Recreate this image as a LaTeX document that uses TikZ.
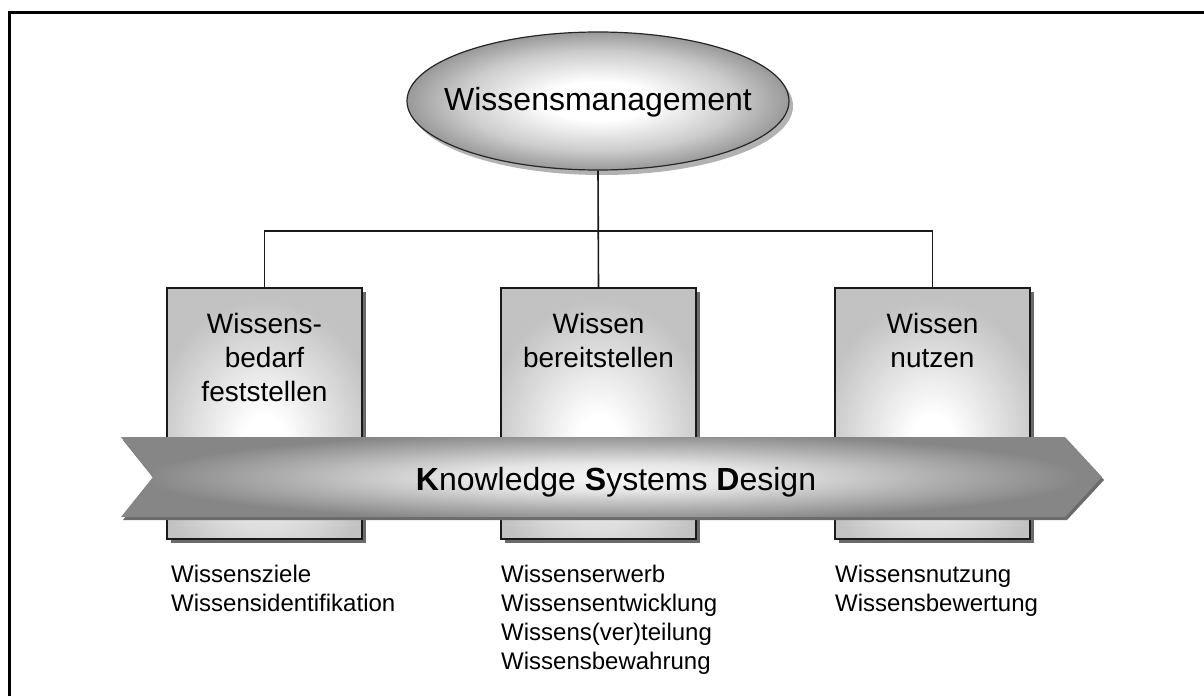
\documentclass[tikz,border=0pt]{standalone}
\usepackage{fontspec}
\setmainfont{Liberation Sans}
\usetikzlibrary{shapes.geometric,calc,shadows}

\definecolor{boxgray}{HTML}{C2C2C2}
\definecolor{ovalmid}{HTML}{CCCCCC}
\definecolor{ovalgray}{HTML}{999999}
\definecolor{bandedge}{HTML}{868686}
\definecolor{bandmid}{HTML}{ADADAD}
\definecolor{bandlight}{HTML}{F8F8F8}
\definecolor{linecol}{HTML}{1A1A1A}

% radial glows; TikZ fits the 25bp radius to the half size of the shaded path
\pgfdeclareradialshading{ovalglow}{\pgfpoint{0bp}{0bp}}{color(0bp)=(white); color(7bp)=(white); color(18bp)=(ovalmid); color(25bp)=(ovalgray); color(50bp)=(ovalgray)}
\pgfdeclareradialshading{boxglow}{\pgfpoint{0bp}{0bp}}{color(0bp)=(white); color(4bp)=(white); color(22bp)=(boxgray); color(50bp)=(boxgray)}
\pgfdeclareradialshading{bandglow}{\pgfpoint{0bp}{0bp}}{color(0bp)=(bandlight); color(7bp)=(white!90!black); color(16bp)=(bandmid); color(22.5bp)=(bandedge); color(50bp)=(bandedge)}

\begin{document}
\begin{tikzpicture}[x=1pt,y=-1pt,
  conn/.style={line width=1.6pt, draw=linecol},
  boxshape/.style={rectangle, minimum width=195pt, minimum height=251pt,
    inner sep=0pt, outer sep=0pt, draw=linecol, line width=1.8pt,
    drop shadow={shadow xshift=4pt, shadow yshift=-4pt, fill=black!58, opacity=1},
    path picture={\fill[boxgray] (path picture bounding box.south west) rectangle (path picture bounding box.north east);
      \shade[shading=boxglow]
      ($(path picture bounding box.center)+(0,27)$) ellipse [x radius=130, y radius=160];}},
  boxtext/.style={align=center, font=\fontsize{28}{34}\selectfont, inner sep=0pt, anchor=north},
  listtext/.style={align=left, font=\fontsize{24}{29}\selectfont, inner sep=0pt, anchor=north west},
  bigtext/.style={font=\fontsize{32}{38}\selectfont, inner sep=0pt},
]
\useasboundingbox (0,0) rectangle (1204,696);
\fill[white] (0,0) rectangle (1204,696);

% frame
\draw[line width=3pt] (9,696) -- (9,12) -- (1204,12);

% top oval
\node[ellipse, minimum width=382pt, minimum height=138pt, inner sep=0pt,
  draw=black!85, line width=1.2pt,
  drop shadow={shadow xshift=4pt, shadow yshift=-5pt, fill=black!30, opacity=1},
  path picture={\shade[shading=ovalglow]
    ($(path picture bounding box.center)+(-191,-69)$) rectangle ++(382,138);}] (wm) at (598,101) {};
\node[bigtext, anchor=base] (wmtext) at (598,110) {Wissensmanagement};

% three process boxes
\node[boxshape] (b1) at (264.5,413.5) {};
\node[boxshape] (b2) at (598.5,413.5) {};
\node[boxshape] (b3) at (932.5,413.5) {};

\node[boxtext] (t1) at ($(b1.north)+(0,25)$) {Wissens-\\bedarf\\feststellen};
\node[boxtext] (t2) at ($(b2.north)+(0,25)$) {Wissen\\bereitstellen};
\node[boxtext] (t3) at ($(b3.north)+(0,25)$) {Wissen\\nutzen};

% connectors
\coordinate (bus) at (599,231);
\draw[conn] (wm.south) -- (b2.north);
\draw[conn] (b1.north) -- (b1.north |- bus) -- (b3.north |- bus) -- (b3.north);

% band arrow
\begin{scope}[shift={(2,3)}]
  \fill[black!58] (121,437) -- (1065,437) -- (1102,477) -- (1065,517) -- (121,517) -- (153,477) -- cycle;
\end{scope}
\begin{scope}
  \clip (121,437) -- (1065,437) -- (1102,477) -- (1065,517) -- (121,517) -- (153,477) -- cycle;
  \shade[shading=bandglow] (92,427) rectangle (1132,527);
\end{scope}
\node[bigtext, anchor=base] (ksd) at (616,490) {\textbf{K}nowledge \textbf{S}ystems \textbf{D}esign};

% activity lists
\node[listtext] (l1) at (171,565) {Wissensziele\\Wissensidentifikation};
\node[listtext] (l2) at (501,565) {Wissenserwerb\\Wissensentwicklung\\Wissens(ver)teilung\\Wissensbewahrung};
\node[listtext] (l3) at (835,565) {Wissensnutzung\\Wissensbewertung};
\end{tikzpicture}
\end{document}
